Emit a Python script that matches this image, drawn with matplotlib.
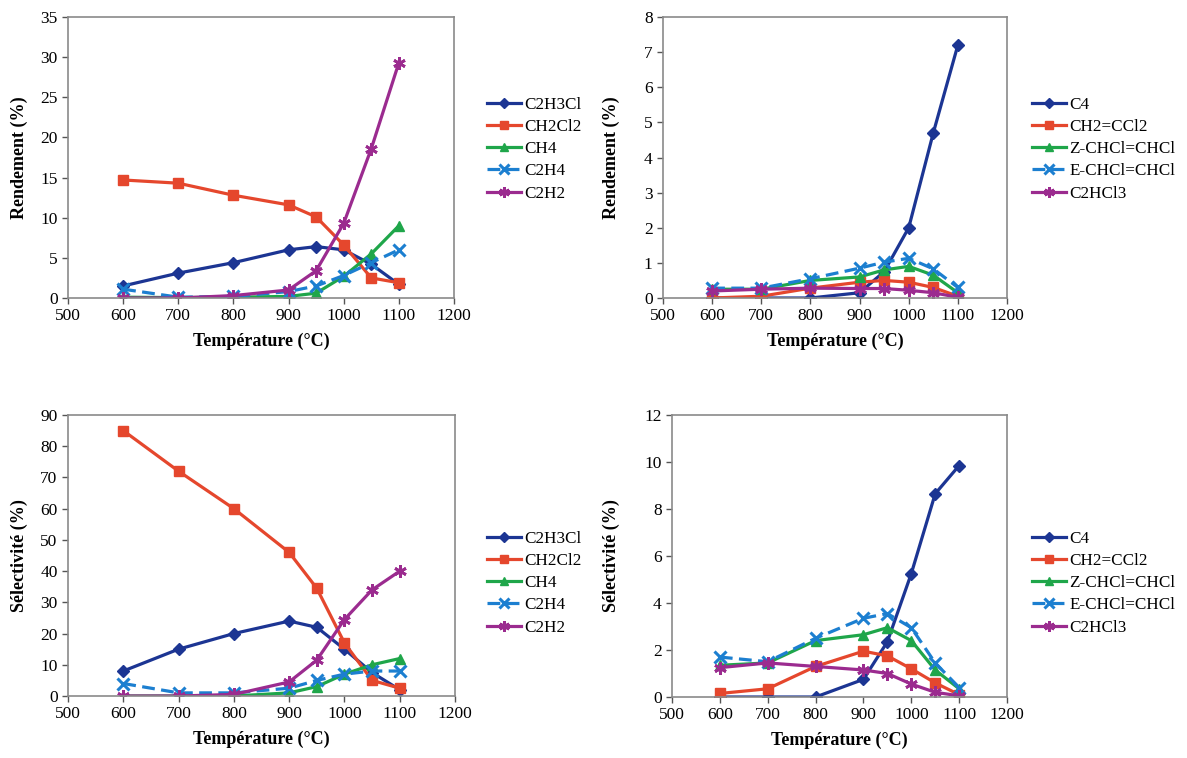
import matplotlib
matplotlib.use("Agg")
import matplotlib.pyplot as plt
import numpy as np

plt.rcParams['font.family'] = ['Liberation Serif', 'DejaVu Serif']

temps = [600, 700, 800, 900, 950, 1000, 1050, 1100]

# Top-left: Rendement (%)
rend_left = {
    'C2H3Cl': [1.5, 3.1, 4.4, 6.0, 6.4, 6.0, 4.2, 1.7],
    'CH2Cl2': [14.7, 14.3, 12.8, 11.6, 10.1, 6.6, 2.5, 1.9],
    'CH4':    [0.1, 0.05, 0.1, 0.2, 0.6, 2.7, 5.5, 9.0],
    'C2H4':   [1.1, 0.1, 0.2, 0.8, 1.5, 2.8, 4.4, 6.0],
    'C2H2':   [0.0, 0.0, 0.3, 1.0, 3.4, 9.3, 18.6, 29.3],
}
# Top-right: Rendement (%)
rend_right = {
    'C4':             [0.0, 0.0, 0.0, 0.15, 0.75, 2.0, 4.7, 7.2],
    'CH2=CCl2':       [0.0, 0.05, 0.28, 0.45, 0.5, 0.45, 0.3, 0.05],
    'Z-CHCl=CHCl':    [0.25, 0.25, 0.5, 0.6, 0.8, 0.9, 0.65, 0.15],
    'E-CHCl=CHCl':    [0.28, 0.28, 0.55, 0.85, 1.02, 1.13, 0.83, 0.3],
    'C2HCl3':         [0.2, 0.25, 0.28, 0.27, 0.27, 0.22, 0.15, 0.02],
}
# Bottom-left: Sélectivité (%)
sel_left = {
    'C2H3Cl': [8, 15, 20, 24, 22, 15, 7.5, 2],
    'CH2Cl2': [85, 72, 60, 46, 34.5, 17, 5, 2.5],
    'CH4':    [0, 0, 0, 1, 3, 7, 10, 12],
    'C2H4':   [4, 1, 1, 2.5, 5, 7, 8, 8],
    'C2H2':   [0, 0, 0.5, 4.5, 11.5, 24.5, 34, 40],
}
# Bottom-right: Sélectivité (%)
sel_right = {
    'C4':             [0.0, 0.0, 0.0, 0.75, 2.35, 5.25, 8.65, 9.85],
    'CH2=CCl2':       [0.15, 0.35, 1.3, 1.95, 1.75, 1.2, 0.6, 0.1],
    'Z-CHCl=CHCl':    [1.35, 1.45, 2.4, 2.65, 2.95, 2.4, 1.15, 0.35],
    'E-CHCl=CHCl':    [1.7, 1.5, 2.5, 3.35, 3.55, 2.95, 1.45, 0.4],
    'C2HCl3':         [1.25, 1.45, 1.3, 1.15, 1.0, 0.55, 0.2, 0.05],
}

styles = [
    dict(color='#1c3593', marker='D', ms=6.5, ls='-'),
    dict(color='#e5472d', marker='s', ms=6.5, ls='-'),
    dict(color='#1fa64a', marker='^', ms=7.5, ls='-'),
    dict(color='#1c7fd0', marker='x', ms=8, ls=(0, (4, 2)), mew=2.2),
    dict(color='#9b2b8f', marker=(6, 2, 0), ms=9, ls='-', mew=2.0),
]

W, H = 1187, 758
fig = plt.figure(figsize=(W / 100, H / 100), dpi=100)

def add_ax(l, t, r, b):
    return fig.add_axes([l / W, 1 - b / H, (r - l) / W, (b - t) / H])

# (axes, data, ylim, ystep, ylabel, legend left px, legend top px, ylabel x px)
panels = [
    (add_ax(68, 17, 454, 298), rend_left, (0, 35), 5, 'Rendement (%)', 487, 97, 28),
    (add_ax(663, 17, 1007, 298), rend_right, (0, 8), 1, 'Rendement (%)', 1032, 97, 620),
    (add_ax(68, 415, 455, 696), sel_left, (0, 90), 10, 'Sélectivité (%)', 487, 531, 28),
    (add_ax(672, 415, 1007, 697), sel_right, (0, 12), 2, 'Sélectivité (%)', 1032, 531, 620),
]

for ax, data, ylim, ystep, ylabel, lx, ly, ylx in panels:
    for (name, vals), st in zip(data.items(), styles):
        ax.plot(temps, vals, label=name, color=st['color'], marker=st['marker'],
                markersize=st['ms'], linestyle=st['ls'], linewidth=2.3,
                markeredgewidth=st.get('mew', 1.0), markeredgecolor=st['color'])
    ax.set_xlim(500, 1200)
    ax.set_ylim(*ylim)
    ax.set_xticks(range(500, 1201, 100))
    ax.set_yticks(np.arange(ylim[0], ylim[1] + ystep / 2, ystep))
    ax.tick_params(direction='out', length=4, width=1, colors='#555555',
                   labelcolor='black', labelsize=12.5)
    for sp in ax.spines.values():
        sp.set_color('#8a8a8a')
        sp.set_linewidth(1.2)
    ax.set_xlabel('Température (°C)', fontsize=13, fontweight='bold', labelpad=6)
    ax.set_ylabel(ylabel, fontsize=13, fontweight='bold')
    pos = ax.get_position()
    ax.yaxis.set_label_coords((ylx - pos.x0 * W) / (pos.width * W), 0.5)
    fig.legend(*ax.get_legend_handles_labels(), loc='upper left',
               bbox_to_anchor=(lx / W, 1 - ly / H), frameon=False,
               fontsize=12.3, handlelength=2.0, handletextpad=0.2,
               labelspacing=0.36, borderaxespad=0, borderpad=0, markerscale=0.85)

fig.savefig('out.png', dpi=100)
